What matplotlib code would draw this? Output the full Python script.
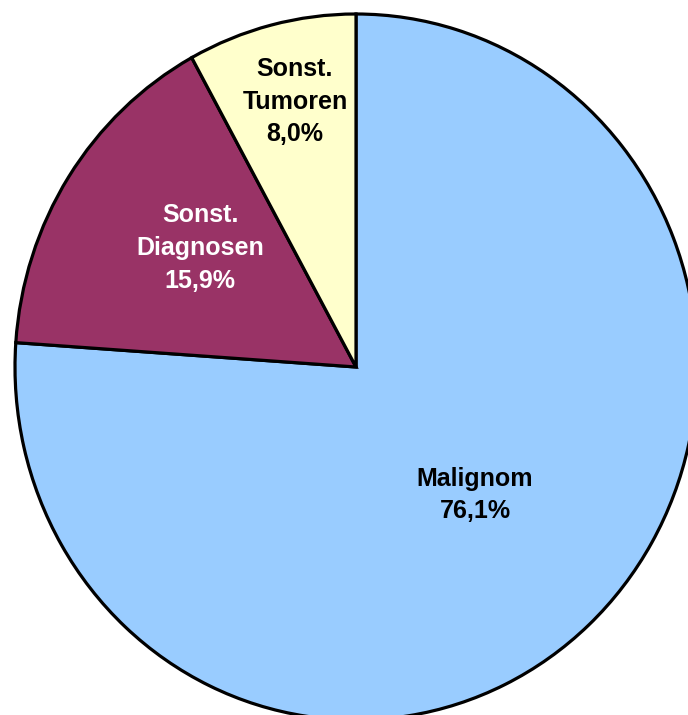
import numpy as np
import matplotlib.pyplot as plt

plt.rcParams['font.family'] = ['Liberation Sans', 'DejaVu Sans']

labels = ["Malignom", "Sonst.\nDiagnosen", "Sonst.\nTumoren"]
shares = [76.1, 15.9, 8.0]
colors = ["#99CCFF", "#993366", "#FFFFCC"]
text_colors = ["black", "white", "black"]

fig = plt.figure(figsize=(6.88, 7.15), dpi=100)
ax = fig.add_axes([0, 0, 1, 1])

wedges, _ = ax.pie(shares, colors=colors, startangle=90, counterclock=False,
                   wedgeprops=dict(edgecolor="black", linewidth=2.3))

# the chart is a little taller than wide, so stretch the pie
ax.set_aspect("auto")
rx, ry = 341.0, 353.0
cx, cy = 356.0, 715.0 - 367.0
ax.set_xlim(-cx / rx, (688.0 - cx) / rx)
ax.set_ylim(-cy / ry, (715.0 - cy) / ry)
ax.axis("off")

# label positions inside each slice
label_pos = [(0.349, -0.363), (-0.457, 0.337), (-0.179, 0.751)]
for lab, val, (x, y), tc in zip(labels, shares, label_pos, text_colors):
    txt = lab + "\n" + ("%.1f%%" % val).replace(".", ",")
    ax.text(x, y, txt, ha="center", va="center", fontsize=18, fontweight="bold",
            color=tc, linespacing=1.45)

fig.savefig("out.png", dpi=100)
